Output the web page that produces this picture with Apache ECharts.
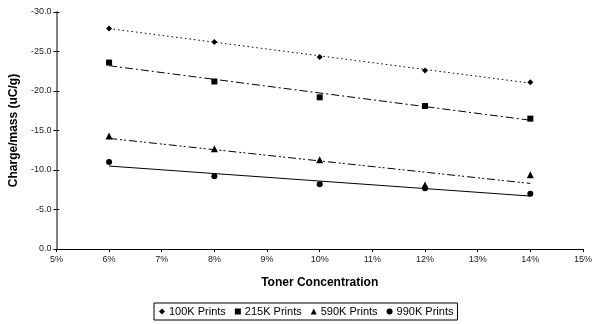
<!DOCTYPE html>
<html>
<head>
<meta charset="utf-8">
<script src="https://cdn.jsdelivr.net/npm/echarts@6/dist/echarts.min.js"></script>
<style>html,body{margin:0;padding:0;background:#fff}#c{width:595px;height:324px}</style>
</head>
<body>
<div id="c"></div>
<script>
const concentrations = [6, 8, 10, 12, 14];
const seriesNames = ['100K Prints', '215K Prints', '590K Prints', '990K Prints'];
const prints100K = [-27.9, -26.2, -24.3, -22.6, -21.1];
const prints215K = [-23.6, -21.2, -19.2, -18.1, -16.5];
const prints590K = [-14.3, -12.7, -11.3, -8.1, -9.4];
const prints990K = [-11.0, -9.2, -8.2, -7.7, -7.0];
// linear trend line end points (at 6% and 14%)
const trendX = [6, 14];
const trend100K = [-27.9, -21.0];
const trend215K = [-23.2, -16.3];
const trend590K = [-14.0, -8.3];
const trend990K = [-10.5, -6.7];

const values = [prints100K, prints215K, prints590K, prints990K];
const trends = [trend100K, trend215K, trend590K, trend990K];
const symbols = ['diamond', 'rect', 'triangle', 'circle'];
const symbolSizes = [6, 6, 7, 6];
const dashes = [[1.5, 3], [8, 3, 2, 3], [8, 3, 2, 2, 2, 3], 'solid'];

const FONT = '"Liberation Sans", Arial, sans-serif';
const series = [];
seriesNames.forEach((name, i) => {
  series.push({
    name: name, type: 'line',
    data: trendX.map((x, j) => [x, trends[i][j]]),
    symbol: 'none', silent: true,
    lineStyle: { color: '#000', width: 1, type: dashes[i] },
    z: 2
  });
  series.push({
    name: name, type: 'scatter',
    data: concentrations.map((x, j) => [x, values[i][j]]),
    symbol: symbols[i], symbolSize: symbolSizes[i],
    itemStyle: { color: '#000', opacity: 1 },
    z: 3
  });
});

const baseX = {
  type: 'value', min: 5, max: 15, interval: 1,
  splitLine: { show: false }
};
const baseY = {
  type: 'value', min: -30, max: 0, interval: 5, inverse: true,
  splitLine: { show: false }
};

const chart = echarts.init(document.getElementById('c'), null, { renderer: 'canvas' });
chart.setOption({
  animation: false,
  backgroundColor: '#fff',
  grid: { left: 49, right: 9, top: 12, bottom: 75, containLabel: false },
  xAxis: [
    Object.assign({}, baseX, {
      name: 'Toner Concentration', nameLocation: 'middle', nameGap: 28,
      nameTextStyle: { fontFamily: FONT, fontSize: 12, fontWeight: 'bold', color: '#000' },
      axisLine: { show: true, onZero: false, lineStyle: { color: '#000', width: 1.2 } },
      axisTick: { show: true, inside: false, length: 3, lineStyle: { color: '#000' } },
      axisLabel: { fontFamily: FONT, fontSize: 9, color: '#222', margin: 6, formatter: v => v + '%' }
    }),
    Object.assign({}, baseX, {
      axisLine: { show: false },
      axisTick: { show: true, inside: true, length: 3, lineStyle: { color: '#000' } },
      axisLabel: { show: false }
    })
  ],
  yAxis: [
    Object.assign({}, baseY, {
      name: 'Charge/mass (uC/g)', nameLocation: 'middle', nameGap: 36, nameRotate: 90,
      nameTextStyle: { fontFamily: FONT, fontSize: 12, fontWeight: 'bold', color: '#000' },
      axisLine: { show: true, onZero: false, lineStyle: { color: '#808080', width: 2 } },
      axisTick: { show: true, inside: false, length: 3, lineStyle: { color: '#000' } },
      axisLabel: { fontFamily: FONT, fontSize: 9, color: '#222', margin: 5, formatter: v => v.toFixed(1) }
    }),
    Object.assign({}, baseY, {
      position: 'left',
      axisLine: { show: false },
      axisTick: { show: true, inside: true, length: 3, lineStyle: { color: '#000' } },
      axisLabel: { show: false }
    })
  ],
  legend: {
    bottom: 4, left: 154,
    data: seriesNames.map((n, i) => ({ name: n, icon: symbols[i] })),
    itemWidth: 6, itemHeight: 6, itemGap: 9,
    borderColor: '#000', borderWidth: 1, borderRadius: 0,
    padding: [3, 4, 3, 5],
    textStyle: { fontFamily: FONT, fontSize: 11, color: '#000', padding: [0, 0, 0, -1] },
    itemStyle: { color: '#000', opacity: 1 }
  },
  series: series
});
</script>
</body>
</html>
